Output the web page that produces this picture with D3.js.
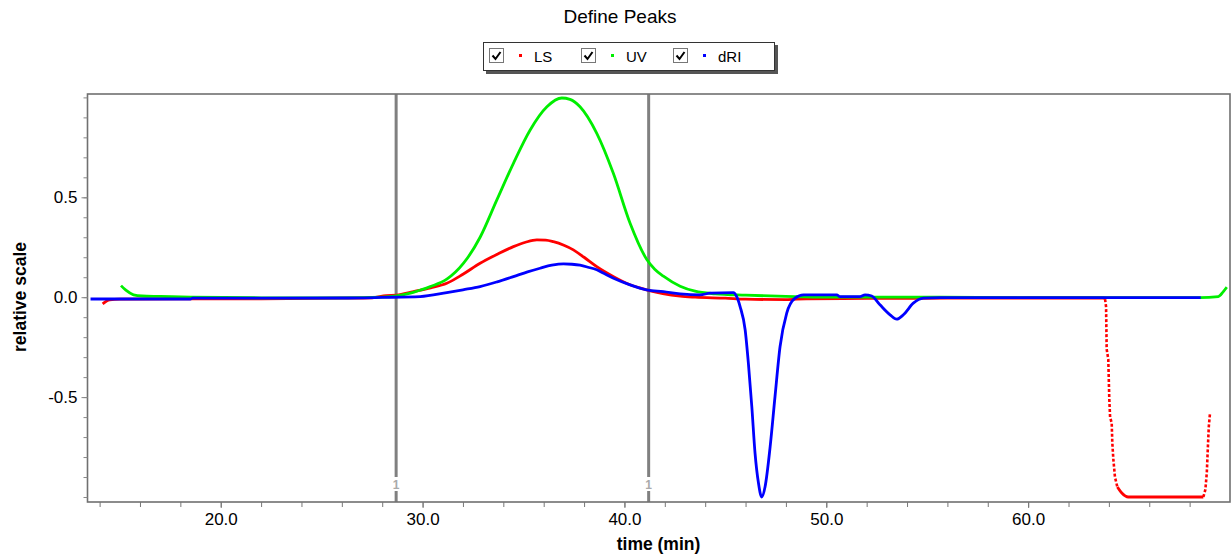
<!DOCTYPE html>
<html>
<head>
<meta charset="utf-8">
<script src="https://cdn.jsdelivr.net/npm/d3@7"></script>
<style>
    body { margin: 0; background: #fff; }
    svg { display: block; font-family: "Liberation Sans", Arial, sans-serif; }
</style>
</head>
<body>
<svg id="chart" width="1232" height="554"></svg>
<script>
// series values as [time (min), relative scale]
var lsPoints = [
    [14.15, -0.033], [14.5, -0.013], [15.0, -0.01], [18.0, -0.008], [22.0, -0.008],
    [26.0, -0.005], [27.5, -0.003], [28.2, 0.008], [28.7, 0.01], [29.55, 0.028],
    [30.4, 0.047], [31.2, 0.07], [32.0, 0.115], [32.85, 0.17], [33.7, 0.215],
    [34.5, 0.253], [35.1, 0.275], [35.66, 0.287], [36.1, 0.286], [36.48, 0.278],
    [37.0, 0.26], [37.47, 0.237], [38.0, 0.2], [38.63, 0.153], [39.46, 0.103],
    [40.28, 0.062], [41.1, 0.037], [41.9, 0.018], [42.76, 0.005], [43.5, 0.0],
    [45.0, -0.005], [46.0, -0.01], [48.0, -0.012], [49.0, -0.008], [52.0, -0.006],
    [56.0, -0.005], [60.0, -0.004], [63.75, -0.004], [63.81, -0.01], [63.86, -0.047],
    [63.89, -0.26], [63.97, -0.31], [64.02, -0.51], [64.06, -0.6], [64.14, -0.63],
    [64.17, -0.73], [64.22, -0.81], [64.3, -0.9], [64.42, -0.95], [64.64, -0.98],
    [64.96, -1.0], [66.5, -1.0], [68.68, -1.0], [68.78, -0.963], [68.85, -0.88],
    [68.9, -0.76], [68.95, -0.647], [69.01, -0.58]
];

var uvPoints = [
    [15.06, 0.058], [15.3, 0.035], [15.68, 0.012], [16.1, 0.006], [17.0, 0.004],
    [18.5, 0.0], [22.0, -0.003], [26.0, -0.003], [28.0, 0.0], [28.7, 0.006],
    [29.4, 0.02], [29.9, 0.036], [30.38, 0.053], [31.2, 0.09], [32.03, 0.17],
    [32.85, 0.3], [33.68, 0.487], [34.5, 0.67], [35.33, 0.837], [36.16, 0.953],
    [36.9, 0.997], [37.3, 0.99], [37.8, 0.953], [38.63, 0.82], [39.45, 0.62],
    [40.28, 0.37], [41.1, 0.19], [41.5, 0.14], [41.93, 0.105], [42.76, 0.055],
    [43.5, 0.03], [44.5, 0.017], [46.0, 0.01], [48.0, 0.004], [50.0, 0.0],
    [55.0, 0.0], [60.0, -0.002], [65.0, -0.002], [68.5, -0.002], [69.42, 0.003],
    [69.67, 0.028], [69.84, 0.05]
];

var driPoints = [
    [13.55, -0.009], [16.0, -0.009], [18.5, -0.009], [18.6, -0.005], [22.0, -0.005],
    [26.0, -0.004], [28.0, -0.001], [29.88, 0.003], [31.2, 0.023], [32.0, 0.037],
    [32.85, 0.053], [33.7, 0.077], [34.5, 0.103], [35.2, 0.127], [35.82, 0.145],
    [36.4, 0.16], [36.98, 0.167], [37.4, 0.165], [37.8, 0.16], [38.2, 0.15],
    [38.63, 0.137], [39.0, 0.118], [39.46, 0.095], [40.28, 0.062], [41.1, 0.037],
    [41.93, 0.028], [42.76, 0.017], [43.75, 0.012], [44.24, 0.02], [45.4, 0.023],
    [45.55, 0.005], [45.73, -0.047], [45.98, -0.163], [46.14, -0.33], [46.31, -0.547],
    [46.47, -0.78], [46.64, -0.93], [46.8, -1.0], [46.97, -0.947], [47.22, -0.747],
    [47.46, -0.497], [47.71, -0.247], [48.04, -0.08], [48.45, -0.005], [48.87, 0.012],
    [50.52, 0.012], [50.68, 0.003], [51.67, 0.003], [51.92, 0.012], [52.25, 0.006],
    [52.66, -0.038], [53.16, -0.088], [53.49, -0.11], [53.82, -0.088], [54.31, -0.03],
    [54.81, -0.005], [55.64, -0.002], [60.0, -0.002], [68.55, -0.002]
];

var seriesNames = ["LS", "UV", "dRI"];
var seriesColors = ["#ff0000", "#00ee00", "#0000ff"];

// peak boundaries (min) and their labels
var peakBounds = [28.69, 41.2];
var peakLabels = ["1", "1"];

var xMajorTicks = [20, 30, 40, 50, 60];
var xMinorTicks = [14, 16, 18, 20, 22, 24, 26, 28, 30, 32, 34, 36, 38, 40, 42, 44, 46, 48, 50,
    52, 54, 56, 58, 60, 62, 64, 66, 68];
var yMajorTicks = [-0.5, 0.0, 0.5];
var yMinorTicks = [-1.0, -0.9, -0.8, -0.7, -0.6, -0.5, -0.4, -0.3, -0.2, -0.1, 0.0,
    0.1, 0.2, 0.3, 0.4, 0.5, 0.6, 0.7, 0.8, 0.9, 1.0];

var plotLeft = 87.5, plotRight = 1230, plotTop = 94, plotBottom = 502;

var svg = d3.select("#chart");

var x = d3.scaleLinear().domain([13.4, 70.0]).range([plotLeft, plotRight]);
var y = d3.scaleLinear().domain([-1.025, 1.017]).range([plotBottom, plotTop]);

// plain hyphen for negatives, as in the original
var oneDecimal = function(d) {
    return d.toFixed(1);
};

//Title
svg.append("text")
    .attr("x", 620)
    .attr("y", 23)
    .attr("text-anchor", "middle")
    .style("font-size", "19px")
    .text("Define Peaks");

//Legend box with its drop shadow
var legend = svg.append("g").attr("class", "legend");
legend.append("rect")
    .attr("x", 486).attr("y", 45)
    .attr("width", 292).attr("height", 29)
    .attr("fill", "#555");
legend.append("rect")
    .attr("x", 483.5).attr("y", 42.5)
    .attr("width", 291).attr("height", 28)
    .attr("fill", "#fff")
    .attr("stroke", "#333")
    .attr("stroke-width", 1);

for (var i = 0; i < seriesNames.length; i++) {
    var item = legend.append("g")
        .attr("transform", "translate(" + (489.5 + i * 92) + ",48.5)");

    item.append("rect")
        .attr("width", 14).attr("height", 14)
        .attr("fill", "#fff")
        .attr("stroke", "#777");
    item.append("path")
        .attr("d", "M3,7 L6,10.5 L11,3.5")
        .attr("fill", "none")
        .attr("stroke", "#000")
        .attr("stroke-width", 2);
    item.append("rect")
        .attr("x", 29.5).attr("y", 5.5)
        .attr("width", 3).attr("height", 3)
        .attr("fill", seriesColors[i]);
    item.append("text")
        .attr("x", 44.5)
        .attr("y", 13)
        .style("font-size", "15px")
        .text(seriesNames[i]);
}

//Peak boundary lines, broken round their label near the bottom
var peaks = svg.append("g").attr("class", "peaks");
peakBounds.forEach(function(t, k) {
    peaks.append("line")
        .attr("x1", x(t)).attr("x2", x(t))
        .attr("y1", plotTop).attr("y2", plotBottom - 25)
        .attr("stroke", "#808080")
        .attr("stroke-width", 3);
    peaks.append("line")
        .attr("x1", x(t)).attr("x2", x(t))
        .attr("y1", plotBottom - 11).attr("y2", plotBottom)
        .attr("stroke", "#808080")
        .attr("stroke-width", 3);
    peaks.append("text")
        .attr("x", x(t))
        .attr("y", plotBottom - 13.5)
        .attr("text-anchor", "middle")
        .attr("fill", "#aaaaaa")
        .style("font-size", "12px")
        .style("font-weight", "bold")
        .text(peakLabels[k]);
});

//Curves. Steep stretches of LS come out as loose dots in the original
var curves = svg.append("g").attr("class", "curves");
var smoothLine = d3.line()
    .x(function(d) { return x(d[0]); })
    .y(function(d) { return y(d[1]); })
    .curve(d3.curveMonotoneX);
var straightLine = d3.line()
    .x(function(d) { return x(d[0]); })
    .y(function(d) { return y(d[1]); });

var drawSeries = function(points, color, dotSteep) {
    if (!dotSteep) {
        curves.append("path")
            .attr("d", smoothLine(points))
            .attr("fill", "none")
            .attr("stroke", color)
            .attr("stroke-width", 2.8);
        return;
    }

    var runs = [];
    var current = null;
    for (var j = 1; j < points.length; j++) {
        var dx = Math.abs(x(points[j][0]) - x(points[j - 1][0]));
        var dy = Math.abs(y(points[j][1]) - y(points[j - 1][1]));
        var steep = dy > 3 * dx;
        if (!current || current.steep !== steep) {
            current = { steep: steep, pts: [points[j - 1]] };
            runs.push(current);
        }
        current.pts.push(points[j]);
    }

    runs.forEach(function(r) {
        curves.append("path")
            .attr("d", r.steep ? straightLine(r.pts) : smoothLine(r.pts))
            .attr("fill", "none")
            .attr("stroke", color)
            .attr("stroke-width", r.steep ? 2.6 : 2.8)
            .attr("stroke-dasharray", r.steep ? "3,2" : null);
    });
};

drawSeries(lsPoints, seriesColors[0], true);
drawSeries(uvPoints, seriesColors[1], false);
drawSeries(driPoints, seriesColors[2], false);

//Frame
svg.append("rect")
    .attr("x", plotLeft).attr("y", plotTop)
    .attr("width", plotRight - plotLeft).attr("height", plotBottom - plotTop)
    .attr("fill", "none")
    .attr("stroke", "#707070")
    .attr("stroke-width", 1.6);

//Axes
var styleTicks = function(g, color) {
    g.select(".domain").remove();
    g.selectAll(".tick line").attr("stroke", color);
    g.selectAll(".tick text")
        .attr("fill", "#000")
        .style("font-size", "17px")
        .style("font-family", "Liberation Sans, Arial, sans-serif");
};

svg.append("g")
    .attr("transform", "translate(0," + plotBottom + ")")
    .call(d3.axisBottom(x).tickValues(xMinorTicks).tickSize(5).tickFormat(""))
    .call(styleTicks, "#777");

svg.append("g")
    .attr("transform", "translate(0," + plotBottom + ")")
    .call(d3.axisBottom(x).tickValues(xMajorTicks).tickSize(6).tickPadding(5).tickFormat(oneDecimal))
    .call(styleTicks, "#777");

svg.append("g")
    .attr("transform", "translate(" + plotLeft + ",0)")
    .call(d3.axisLeft(y).tickValues(yMinorTicks).tickSize(4).tickFormat(""))
    .call(styleTicks, "#888");

svg.append("g")
    .attr("transform", "translate(" + plotLeft + ",0)")
    .call(d3.axisLeft(y).tickValues(yMajorTicks).tickSize(6).tickPadding(4).tickFormat(oneDecimal))
    .call(styleTicks, "#888");

//Axis titles
svg.append("text")
    .attr("x", 658.5)
    .attr("y", 550)
    .attr("text-anchor", "middle")
    .style("font-size", "17.5px")
    .style("font-weight", "bold")
    .text("time (min)");

svg.append("text")
    .attr("transform", "translate(26,297) rotate(-90)")
    .attr("text-anchor", "middle")
    .style("font-size", "17.5px")
    .style("font-weight", "bold")
    .text("relative scale");
</script>
</body>
</html>
